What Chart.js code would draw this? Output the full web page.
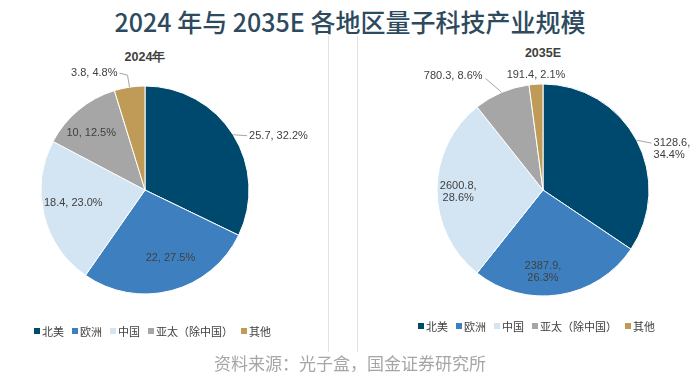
<!DOCTYPE html>
<html>
<head>
<meta charset="utf-8">
<script src="https://cdn.jsdelivr.net/npm/chart.js@4.4.1/dist/chart.umd.min.js"></script>
<style>
    body { margin: 0; width: 700px; height: 380px; background: #fff; position: relative; overflow: hidden; font-family: "Noto Sans CJK SC", "Liberation Sans", sans-serif; }
    #title { position: absolute; left: 0; top: 4px; width: 700px; text-align: center; font-size: 25px; font-weight: 500; color: #2d4a5e; line-height: 34px; }
    .sep { position: absolute; top: 36px; width: 1px; height: 316px; background: #e3e3e3; }
    .sub { position: absolute; font-family: "Liberation Sans", Arial, sans-serif; font-weight: bold; font-size: 12.5px; color: #404040; transform: translate(-50%, -50%); }
    .cv { position: absolute; top: 40px; height: 300px; }
    .legend { position: absolute; display: flex; font-size: 11px; color: #404040; line-height: 14px; }
    .legend span { display: flex; align-items: center; margin-right: 8px; }
    .legend i { display: inline-block; width: 6px; height: 6px; margin-right: 2px; }
    #source { position: absolute; left: 0; top: 352px; width: 700px; text-align: center; font-size: 17px; color: #a6a6a6; line-height: 22px; }
</style>
</head>
<body>
<div id="title">2024 年与 2035E 各地区量子科技产业规模</div>
<div class="sep" style="left:328px"></div>
<div class="sep" style="left:357px"></div>
<div class="sub" style="left:145px;top:57px">2024年</div>
<div class="sub" style="left:543px;top:53px">2035E</div>
<div class="cv" style="left:0;width:320px"><canvas id="pie2024"></canvas></div>
<div class="cv" style="left:370px;width:330px"><canvas id="pie2035"></canvas></div>
<div class="legend" id="legend2024" style="left:34px;top:324px"></div>
<div class="legend" id="legend2035" style="left:418px;top:319px"></div>
<div id="source">资料来源：光子盒，国金证券研究所</div>

<script>
const regions = ['北美', '欧洲', '中国', '亚太（除中国）', '其他'];
const values2024 = [25.7, 22, 18.4, 10, 3.8];
const values2035 = [3128.6, 2387.9, 2600.8, 780.3, 191.4];
const colors = ['#00496e', '#3e80bf', '#d3e5f3', '#a6a6a6', '#c09b57'];

// label placement for each slice: f = fraction of radius, dx/dy nudge, leader = points relative to the slice edge
const layout2024 = [
    { f: 1, dx: 16, dy: 1, align: 'left', leader: [[14, 1]] },
    { f: 0.7, dx: 7, dy: -2, align: 'center' },
    { f: 0.7, dx: -1, dy: -4, align: 'center' },
    { f: 0.75, dx: -4, dy: 3, align: 'center' },
    { f: 1, dx: -12, dy: -14, align: 'right', leader: [[-2, -12], [-10, -14]] }
];
const layout2035 = [
    { f: 1, dx: 17, dy: 3, align: 'left', wrap: true, leader: [[15, 3]] },
    { f: 0.8, dx: -13, dy: -2, align: 'center', wrap: true },
    { f: 0.8, dx: 0, dy: 2, align: 'center', wrap: true },
    { f: 1, dx: -19, dy: -16, align: 'right', leader: [[-2, -2], [-16, -14]] },
    { f: 1, dx: 0, dy: -9, align: 'center' }
];

const pieLabels = {
    id: 'pieLabels',
    afterDatasetsDraw(chart, args, opts) {
        const ctx = chart.ctx;
        const data = chart.data.datasets[0].data;
        const total = data.reduce((a, b) => a + b, 0);
        ctx.save();
        ctx.font = '11px "Liberation Sans", Arial, sans-serif';
        ctx.fillStyle = '#404040';
        ctx.textBaseline = 'middle';
        chart.getDatasetMeta(0).data.forEach((arc, i) => {
            const p = opts.layout[i];
            const mid = (arc.startAngle + arc.endAngle) / 2;
            const r = arc.outerRadius;
            const ex = arc.x + Math.cos(mid) * r;
            const ey = arc.y + Math.sin(mid) * r;
            const tx = arc.x + Math.cos(mid) * r * p.f + p.dx;
            const ty = arc.y + Math.sin(mid) * r * p.f + p.dy;
            if (p.leader) {
                ctx.beginPath();
                ctx.moveTo(ex, ey);
                p.leader.forEach(pt => ctx.lineTo(ex + pt[0], ey + pt[1]));
                ctx.strokeStyle = '#a6a6a6';
                ctx.lineWidth = 1;
                ctx.stroke();
            }
            const pct = (data[i] / total * 100).toFixed(1) + '%';
            const lines = p.wrap ? [data[i] + ',', pct] : [data[i] + ', ' + pct];
            ctx.textAlign = p.align;
            const startY = p.wrap && p.align !== 'left' ? ty - 6 : ty;
            lines.forEach((t, k) => ctx.fillText(t, tx, startY + k * 12));
        });
        ctx.restore();
    }
};

function makePie(id, values, radius, padding, layout) {
    return new Chart(document.getElementById(id), {
        type: 'doughnut',
        data: {
            labels: regions,
            datasets: [{
                data: values,
                backgroundColor: colors,
                borderColor: '#ffffff',
                borderWidth: 1,
                radius: radius
            }]
        },
        options: {
            responsive: true,
            maintainAspectRatio: false,
            animation: false,
            cutout: 0,
            layout: { padding: padding },
            plugins: {
                legend: { display: false },
                tooltip: { enabled: false },
                pieLabels: { layout: layout }
            }
        },
        plugins: [pieLabels]
    });
}

function makeLegend(id) {
    document.getElementById(id).innerHTML = regions.map((r, i) =>
        `<span><i style="background:${colors[i]}"></i>${r}</span>`).join('');
}

makePie('pie2024', values2024, 104, { right: 30 }, layout2024);
makePie('pie2035', values2035, 106, { left: 16 }, layout2035);
makeLegend('legend2024');
makeLegend('legend2035');
</script>
</body>
</html>
